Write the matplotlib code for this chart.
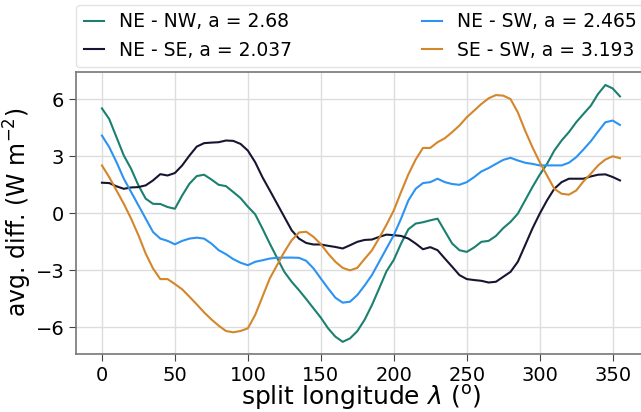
import numpy as np
import matplotlib
matplotlib.use("Agg")
import matplotlib.pyplot as plt

# split longitude (deg)
lon = np.arange(0, 360, 5)

ne_nw = [5.52, 4.96, 4.0, 3.04, 2.34, 1.47, 0.77, 0.5, 0.49, 0.33,
         0.24, 0.94, 1.56, 1.96, 2.03, 1.78, 1.5, 1.43, 1.12, 0.8,
         0.35, -0.05, -0.8, -1.59, -2.34, -3.08, -3.6, -4.04, -4.51, -5.0,
         -5.49, -6.05, -6.49, -6.76, -6.58, -6.2, -5.6, -4.83, -3.95, -3.05,
         -2.45, -1.59, -0.84, -0.54, -0.47, -0.37, -0.28, -0.94, -1.59, -1.94,
         -2.03, -1.8, -1.5, -1.45, -1.19, -0.78, -0.45, -0.02, 0.68, 1.38,
         2.03, 2.6, 3.3, 3.83, 4.27, 4.79, 5.23, 5.66, 6.28, 6.75,
         6.57, 6.15]

ne_se = [1.61, 1.59, 1.42, 1.29, 1.36, 1.38, 1.47, 1.73, 2.06, 1.99,
         2.12, 2.52, 3.04, 3.51, 3.69, 3.72, 3.74, 3.83, 3.81, 3.65,
         3.3, 2.69, 1.9, 1.21, 0.51, -0.19, -0.89, -1.33, -1.56, -1.64,
         -1.64, -1.71, -1.77, -1.85, -1.68, -1.5, -1.4, -1.38, -1.24, -1.12,
         -1.15, -1.19, -1.33, -1.59, -1.89, -1.78, -1.94, -2.38, -2.81, -3.25,
         -3.46, -3.51, -3.55, -3.64, -3.6, -3.34, -3.08, -2.55, -1.68, -0.8,
         -0.02, 0.68, 1.29, 1.64, 1.82, 1.82, 1.82, 1.94, 2.03, 2.05,
         1.91, 1.73]

ne_sw = [4.09, 3.48, 2.69, 1.82, 1.12, 0.42, -0.28, -0.98, -1.33, -1.45,
         -1.63, -1.45, -1.33, -1.28, -1.33, -1.59, -1.94, -2.15, -2.41, -2.6,
         -2.73, -2.55, -2.47, -2.38, -2.34, -2.33, -2.33, -2.34, -2.5, -2.9,
         -3.43, -3.95, -4.44, -4.7, -4.65, -4.3, -3.8, -3.25, -2.55, -1.85,
         -1.15, -0.28, 0.68, 1.29, 1.59, 1.64, 1.82, 1.64, 1.54, 1.5,
         1.64, 1.9, 2.2, 2.38, 2.6, 2.81, 2.92, 2.78, 2.66, 2.6,
         2.52, 2.52, 2.52, 2.52, 2.66, 2.95, 3.36, 3.79, 4.3, 4.79,
         4.88, 4.65]

se_sw = [2.52, 1.9, 1.2, 0.5, -0.28, -1.15, -2.12, -2.9, -3.46, -3.46,
         -3.72, -4.0, -4.39, -4.79, -5.21, -5.58, -5.91, -6.19, -6.26, -6.19,
         -6.05, -5.35, -4.39, -3.43, -2.73, -2.03, -1.42, -1.01, -0.97, -1.24,
         -1.62, -2.12, -2.55, -2.87, -3.0, -2.87, -2.4, -1.95, -1.3, -0.6,
         0.15, 1.12, 2.05, 2.83, 3.44, 3.44, 3.74, 3.95, 4.27, 4.62,
         5.05, 5.4, 5.75, 6.05, 6.22, 6.19, 6.01, 5.31, 4.35, 3.48,
         2.69, 1.99, 1.29, 1.03, 0.98, 1.2, 1.68, 2.08, 2.52, 2.83,
         3.0, 2.9]

labels = ['NE - NW, a = 2.68', 'NE - SE, a = 2.037',
          'NE - SW, a = 2.465', 'SE - SW, a = 3.193']
colors = ['#1b8070', '#161632', '#2b93f2', '#d4862a']

fig = plt.figure(figsize=(6.41, 4.12), dpi=100)
ax = fig.add_axes([0.1186, 0.1408, 0.889, 0.6852])

for ys, lab, c in zip([ne_nw, ne_se, ne_sw, se_sw], labels, colors):
    ax.plot(lon, ys, color=c, lw=1.5, label=lab)

ax.set_xlim(-17.75, 372.75)
ax.set_ylim(-7.4, 7.45)
ax.set_xticks(np.arange(0, 351, 50))
ax.set_yticks([-6, -3, 0, 3, 6])
ax.grid(True, color='#dddddd', lw=1)
ax.set_axisbelow(True)
for s in ax.spines.values():
    s.set_color('#777777')
    s.set_linewidth(1.2)
ax.tick_params(labelsize=14, length=5, color='#444444')

ax.set_xlabel(r'split longitude $\lambda$ ($^\mathrm{o}$)', fontsize=18, labelpad=-1)
ax.set_ylabel(r'avg. diff. (W m$^{-2}$)', fontsize=17, labelpad=1)

ax.legend(loc='upper left', bbox_to_anchor=(0.1186, 0.988), bbox_transform=fig.transFigure,
          borderaxespad=0, borderpad=0.4, ncol=2, fontsize=13.5, handlelength=1.1,
          handletextpad=0.8, columnspacing=6.9, labelspacing=0.5,
          frameon=True, edgecolor='#dddddd')

fig.savefig('out.png', dpi=100)
